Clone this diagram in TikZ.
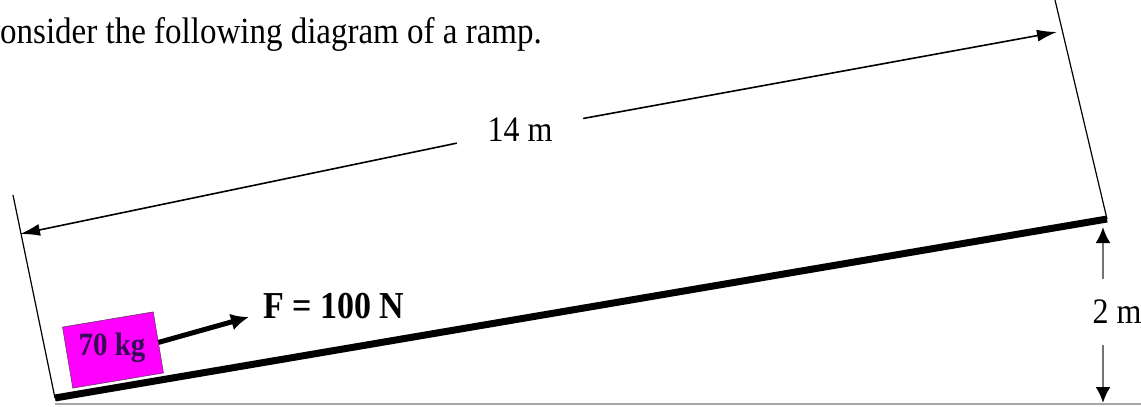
\documentclass[tikz,border=0pt]{standalone}
\usepackage{fontspec}
\usepackage{graphicx}
\setmainfont{Liberation Serif}
\usetikzlibrary{arrows.meta, positioning, calc}

\definecolor{cratepink}{RGB}{255,0,255}
\definecolor{cratetext}{RGB}{55,10,85}
\newcommand{\tallText}[1]{\scalebox{1}[1.12]{#1}}

\begin{document}
\begin{tikzpicture}[
		x=1pt, y=-1pt,
		txt/.style={inner sep=0pt, font=\fontsize{32}{34}\selectfont},
		crate/.style={rectangle, draw=black!80, thin, fill=cratepink, minimum width=92pt, minimum height=62pt, rotate=9.5},
		ramp_line/.style={draw, line width=7pt},
		ext_line/.style={draw, line width=1.2pt},
		dim_line/.style={draw, line width=1.6pt, -{Latex[length=20pt,width=12pt]}},
		height_line/.style={draw, black!55, line width=2.5pt, -{Latex[length=16pt,width=15pt,black]}},
		force_line/.style={draw, line width=5pt, -{Latex[length=18pt,width=17pt]}},
		gnd_line/.style={draw, black!35, line width=1.5pt}
	]
	\useasboundingbox (0,0) rectangle (1141,407);

	% Heading text
	\node [txt, font=\fontsize{33}{35}\selectfont, anchor=base west] (intro) at (0,43) {\tallText{onsider the following diagram of a ramp.}};

	% Ramp and ground
	\coordinate (rampL) at (55,398);
	\coordinate (rampR) at (1107,219);
	\coordinate (gndL) at (55,404);
	\coordinate (gndR) at (1141,404);
	\path [gnd_line] (gndL) -- (gndR);
	\path [ramp_line] (rampL) -- (rampR);

	% Extension lines for the length
	\coordinate (extL) at (13,195);
	\coordinate (extR) at (1055,0);
	\path [ext_line] (extL) -- (rampL);
	\path [ext_line] (extR) -- (rampR);

	% Length of the ramp
	\coordinate (dimL) at (20,234);
	\coordinate (dimR) at (1057,32);
	\node [txt, minimum width=126pt, minimum height=36pt] (len) at (520,130) {\tallText{14 m}};
	\path [dim_line] (len) -- (dimL);
	\path [dim_line] (len) -- (dimR);

	% Height of the ramp
	\coordinate (htop) at (1103,227);
	\coordinate (hbot) at (1103,403);
	\node [txt, minimum height=66pt] (hlab) at (1117,312) {\tallText{2 m}};
	\path [height_line] (hlab.north -| htop) -- (htop);
	\path [height_line] (hlab.south -| hbot) -- (hbot);

	% Box and pulling force
	\node [crate] (box) at (113,350) {};
	\node [txt, font=\fontsize{29}{30}\selectfont\bfseries, text=cratetext] (mass) at (112,348) {\tallText{70 kg}};
	\coordinate (ftip) at (249,317);
	\path [force_line] (box.east) -- (ftip);
	\node [txt, font=\fontsize{34}{36}\selectfont\bfseries, anchor=base west] (force) at (263,318) {\tallText{F = 100 N}};

\end{tikzpicture}
\end{document}
